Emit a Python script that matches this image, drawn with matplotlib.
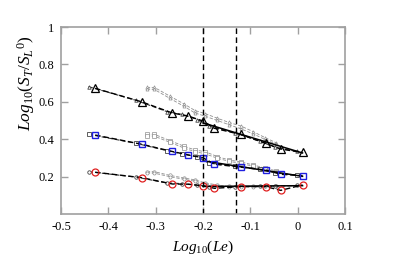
import matplotlib
matplotlib.use("Agg")
import matplotlib.pyplot as plt
import numpy as np

plt.rcParams['font.family'] = ['Liberation Serif', 'DejaVu Serif']
plt.rcParams['mathtext.fontset'] = 'custom'
plt.rcParams['mathtext.rm'] = 'Liberation Serif'
plt.rcParams['mathtext.it'] = 'Liberation Serif:italic'

# Main series (big markers)
x_main = [-0.428, -0.330, -0.265, -0.232, -0.200, -0.176, -0.120, -0.068, -0.036, 0.010]
tri_main = [0.672, 0.600, 0.540, 0.524, 0.497, 0.458, 0.425, 0.378, 0.347, 0.329]
sq_main = [0.422, 0.373, 0.334, 0.316, 0.300, 0.266, 0.250, 0.235, 0.212, 0.205]
ci_main = [0.223, 0.194, 0.160, 0.159, 0.150, 0.137, 0.146, 0.146, 0.126, 0.155]

# Small black marker series
x_small = [-0.442, -0.342, -0.277, -0.244, -0.212, -0.188, -0.132, -0.080, -0.048, -0.002]
tri_small = [0.681, 0.608, 0.548, 0.532, 0.505, 0.470, 0.433, 0.388, 0.357, 0.334]
sq_small = [0.426, 0.378, 0.339, 0.321, 0.305, 0.272, 0.256, 0.240, 0.219, 0.208]
ci_small = [0.226, 0.197, 0.166, 0.162, 0.154, 0.146, 0.146, 0.147, 0.148, 0.152]

# Gray series
x_gray = [-0.319, -0.303, -0.270, -0.240, -0.217, -0.196, -0.170, -0.146, -0.120, -0.094, -0.069, -0.045]
tri_gray1 = [0.677, 0.677, 0.630, 0.588, 0.553, 0.537, 0.512, 0.490, 0.470, 0.440, 0.408, 0.380]
tri_gray2 = [0.668, 0.666, 0.618, 0.575, 0.540, 0.523, 0.500, 0.478, 0.455, 0.428, 0.398, 0.372]
sq_gray1 = [0.426, 0.426, 0.392, 0.362, 0.342, 0.333, 0.307, 0.289, 0.278, 0.262, 0.245, 0.230]
sq_gray2 = [0.418, 0.416, 0.383, 0.352, 0.333, 0.322, 0.298, 0.282, 0.270, 0.255, 0.240, 0.225]
ci_gray1 = [0.226, 0.226, 0.206, 0.192, 0.182, 0.166, 0.155, 0.147, 0.147, 0.147, 0.150, 0.150]
ci_gray2 = [0.220, 0.218, 0.199, 0.185, 0.175, 0.160, 0.150, 0.145, 0.145, 0.146, 0.148, 0.149]

# Solid fit lines
x_fit = [-0.200, 0.010]
tri_fit = [0.487, 0.326]
sq_fit = [0.284, 0.201]
ci_fit = [0.147, 0.151]

vlines = [-0.200, -0.130]

xticks = [-0.5, -0.4, -0.3, -0.2, -0.1, 0, 0.1]
xticklabels = ['-0.5', '-0.4', '-0.3', '-0.2', '-0.1', '0', '0.1']
yticks = [0.2, 0.4, 0.6, 0.8, 1.0]
yticklabels = ['0.2', '0.4', '0.6', '0.8', '1']

fig = plt.figure(figsize=(3.94, 2.76), dpi=100)
ax = fig.add_axes([0.155, 0.225, 0.721, 0.677])

gray = '#909090'
dash = (0, (4, 2))
for ys, m in [(tri_gray1, '^'), (sq_gray1, 's'), (ci_gray1, 'o')]:
    ax.plot(x_gray, ys, ls=dash, color=gray, lw=0.6, marker=m, ms=2.5,
            mfc='white', mec=gray, mew=0.5)
for ys, m in [(tri_gray2, '^'), (sq_gray2, 's'), (ci_gray2, 'o')]:
    ax.plot(x_gray, ys, ls=dash, color=gray, lw=0.6, marker=m, ms=2.2,
            mfc='white', mec=gray, mew=0.5)

for ys, m in [(tri_small, '^'), (sq_small, 's'), (ci_small, 'o')]:
    ax.plot(x_small, ys, ls=dash, color='#333333', lw=0.8, marker=m, ms=2.5,
            mfc='white', mec='#444444', mew=0.6)

for ys in [tri_fit, sq_fit, ci_fit]:
    ax.plot(x_fit, ys, ls='-', color='black', lw=1.1)

ax.plot(x_main, tri_main, ls=dash, color='black', lw=1.0, marker='^', ms=5.5,
        mfc='none', mec='black', mew=0.9)
ax.plot(x_main, sq_main, ls=dash, color='black', lw=1.0, marker='s', ms=4.5,
        mfc='none', mec='#1f1fe0', mew=1.0)
ax.plot(x_main, ci_main, ls=dash, color='black', lw=1.0, marker='o', ms=5,
        mfc='none', mec='#e02020', mew=0.9)

for v in vlines:
    ax.axvline(v, color='black', ls=(0, (4, 2.5)), lw=1.0)

ax.set_xlim(-0.5, 0.1)
ax.set_ylim(0, 1)
ax.set_xticks(xticks)
ax.set_xticklabels(xticklabels)
ax.set_yticks(yticks)
ax.set_yticklabels(yticklabels)
ax.tick_params(direction='in', length=5, width=1, color='#a0a0a0', labelsize=9,
               top=True, right=True, pad=5)
for s in ax.spines.values():
    s.set_color('#a0a0a0')
    s.set_linewidth(1.2)

ax.set_xlabel(r'$Log_{10}(Le)$', fontsize=11, labelpad=4)
ax.set_ylabel(r'$Log_{10}(S_T/S_L{}^0)$', fontsize=12.5, labelpad=4)
ax.yaxis.set_label_coords(-0.085, 0.70)

fig.savefig('out.png', dpi=100)
